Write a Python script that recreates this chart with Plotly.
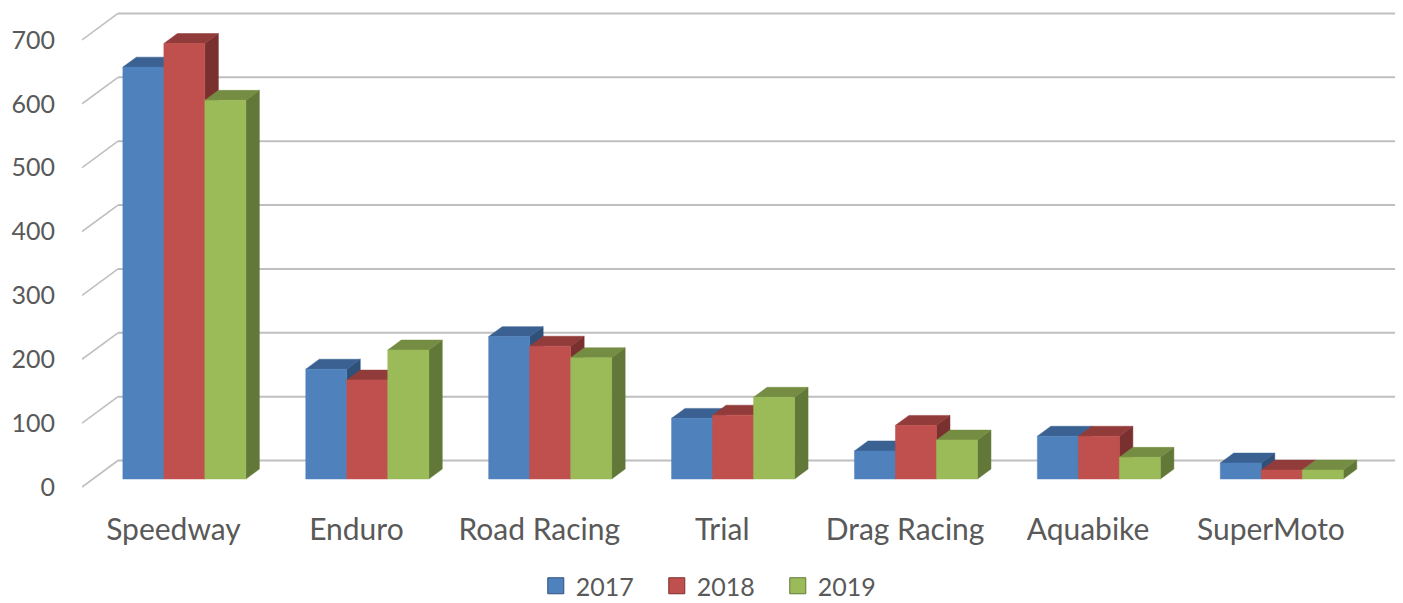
import plotly.graph_objects as go

# data
categories = ["Speedway", "Enduro", "Road Racing", "Trial", "Drag Racing", "Aquabike", "SuperMoto"]
years = ["2017", "2018", "2019"]
v2017 = [645, 172, 223, 95, 44, 67, 25]
v2018 = [682, 155, 208, 100, 84, 67, 14]
v2019 = [593, 202, 190, 128, 61, 34, 14]
y_ticks = [0, 100, 200, 300, 400, 500, 600, 700]

series = [v2017, v2018, v2019]
front_colors = ["#4F81BD", "#C0504D", "#9BBB59"]
top_colors = ["#3A6191", "#913C3A", "#758D43"]
side_colors = ["#2F5079", "#7A302E", "#627838"]

# the page body has an 8px margin, so the figure is drawn 8px right/down
OFF = 8

# pseudo-3D geometry (px per unit along each axis)
sx = 182.9          # px per category
sy = 0.6386         # px per value unit
DX = 36 / sx        # full depth of the floor, x direction
DY = 26.5 / sy      # full depth of the floor, y direction
f0 = 0.302          # depth of bar front faces
fd = 0.375          # bar depth
bw = 41 / sx        # bar width

# plot area on the page: x 82..1400, y 8..500
x_lo = (82 - 173.5) / sx
x_hi = (1400 - 173.5) / sx
x_wall = (1397 - 173.5) / sx
y_lo = (487 - 500) / sy
y_hi = (487 - OFF) / sy

fig = go.Figure()

# gridlines on the side and back walls
for v in y_ticks:
    fig.add_shape(type="line", x0=x_lo, y0=v, x1=x_lo + DX, y1=v + DY,
                  line=dict(color="#BFBFBF", width=1.6), layer="below")
    fig.add_shape(type="line", x0=x_lo + DX, y0=v + DY, x1=x_wall, y1=v + DY,
                  line=dict(color="#BFBFBF", width=2), layer="below")

ddx, ddy = fd * DX, fd * DY
for j, vals in enumerate(series):
    fx, fy, tx, ty, sxs, sys_ = [], [], [], [], [], []
    for i, v in enumerate(vals):
        xl = i - 1.5 * bw + j * bw + f0 * DX
        xr = xl + bw
        yb = f0 * DY
        yt = yb + v
        sxs += [xr, xr, xr + ddx, xr + ddx, xr, None]
        sys_ += [yb, yt, yt + ddy, yb + ddy, yb, None]
        tx += [xl, xr, xr + ddx, xl + ddx, xl, None]
        ty += [yt, yt, yt + ddy, yt + ddy, yt, None]
        fx += [xl, xr, xr, xl, xl, None]
        fy += [yb, yb, yt, yt, yb, None]
    for xs, ys, col in [(sxs, sys_, side_colors[j]), (tx, ty, top_colors[j]), (fx, fy, front_colors[j])]:
        fig.add_trace(go.Scatter(
            x=xs, y=ys, mode="lines", fill="toself", fillcolor=col,
            line=dict(color=col, width=0.5), showlegend=False, hoverinfo="skip",
        ))

# legend entries
for j, yr in enumerate(years):
    fig.add_trace(go.Scatter(
        x=[None], y=[None], mode="markers", name=yr,
        marker=dict(symbol="square", size=16, color=front_colors[j],
                    line=dict(color=side_colors[j], width=1)),
    ))

fig.update_layout(
    width=1403,
    height=603,
    margin=dict(l=82 - OFF, r=1403 - (1400 - OFF), t=0, b=603 - (500 - OFF)),
    paper_bgcolor="white",
    plot_bgcolor="white",
    font=dict(family="Lato, sans-serif", color="#595959"),
    xaxis=dict(
        range=[x_lo, x_hi],
        tickvals=list(range(len(categories))),
        ticktext=categories,
        showgrid=False,
        zeroline=False,
        showline=False,
        automargin=False,
        ticks="outside",
        ticklen=3,
        tickcolor="rgba(0,0,0,0)",
        tickfont=dict(size=30),
    ),
    yaxis=dict(
        range=[y_lo, y_hi],
        tickvals=y_ticks,
        showgrid=False,
        zeroline=False,
        showline=False,
        automargin=False,
        ticks="outside",
        ticklen=21,
        tickcolor="rgba(0,0,0,0)",
        tickfont=dict(size=25),
    ),
    legend=dict(
        orientation="h",
        x=0.482,
        xanchor="center",
        yref="container",
        y=(603 - (586 - OFF)) / 603,
        yanchor="middle",
        font=dict(size=25),
        entrywidth=76,
    ),
)

fig.write_html("out.html")
